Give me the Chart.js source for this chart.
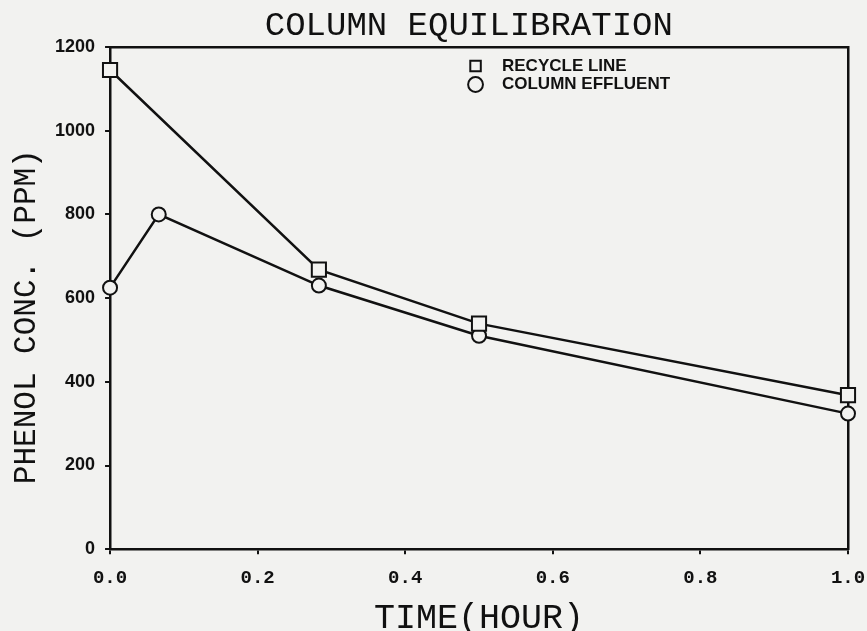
<!DOCTYPE html>
<html><head><meta charset="utf-8">
<script src="https://cdn.jsdelivr.net/npm/chart.js@4/dist/chart.umd.min.js"></script>
<style>html,body{margin:0;padding:0;background:#f2f2f0;}canvas{display:block;}</style>
</head><body>
<canvas id="c" width="867" height="631"></canvas>
<script>
const chartTitle = 'COLUMN EQUILIBRATION';
const xAxisTitle = 'TIME(HOUR)';
const yAxisTitle = 'PHENOL CONC. (PPM)';
const seriesNames = ['RECYCLE LINE', 'COLUMN EFFLUENT'];
const recycleTime = [0, 0.283, 0.5, 1.0];
const recyclePpm = [1145, 668, 539, 368];
const effluentTime = [0, 0.066, 0.283, 0.5, 1.0];
const effluentPpm = [625, 800, 630, 510, 324];
const xTicks = [0, 0.2, 0.4, 0.6, 0.8, 1.0];
const yTicks = [0, 200, 400, 600, 800, 1000, 1200];

const INK = '#111111';
const BG = '#f2f2f0';
const MONO = "'Liberation Mono', 'DejaVu Sans Mono', monospace";
const SANS = "'Liberation Sans', Arial, sans-serif";

const toPoints = (xs, ys) => xs.map((x, i) => ({x: x, y: ys[i]}));

const legendMover = {
  id: 'legendMover',
  afterLayout(chart) {
    const lg = chart.legend, ca = chart.chartArea;
    if (!lg) return;
    const w = lg.width, h = lg.height;
    lg.left = ca.left + 355.5;
    lg.top = ca.top + 9;
    lg.right = lg.left + w;
    lg.bottom = lg.top + h;
  }
};

new Chart(document.getElementById('c'), {
  type: 'line',
  data: {
    datasets: [
      {
        label: seriesNames[0],
        data: toPoints(recycleTime, recyclePpm),
        borderColor: INK, borderWidth: 2.5, tension: 0, clip: false,
        pointStyle: 'rect', pointRadius: 10, pointBorderWidth: 2,
        pointBorderColor: INK, pointBackgroundColor: BG
      },
      {
        label: seriesNames[1],
        data: toPoints(effluentTime, effluentPpm),
        borderColor: INK, borderWidth: 2.5, tension: 0, clip: false,
        pointStyle: 'circle', pointRadius: 7, pointBorderWidth: 2,
        pointBorderColor: INK, pointBackgroundColor: BG
      }
    ]
  },
  options: {
    responsive: false,
    animation: false,
    events: [],
    layout: {autoPadding: false, padding: {right: 19, left: 0, top: 0, bottom: 0}},
    plugins: {
      tooltip: {enabled: false},
      title: {
        display: true, text: chartTitle + ' ', color: INK, fullSize: false,
        font: {family: MONO, size: 34, weight: 'normal', lineHeight: 1},
        padding: {top: 8.6, bottom: 4.4}
      },
      legend: {
        display: true, position: 'chartArea', align: 'start', fullSize: false,
        labels: {
          usePointStyle: true, boxWidth: 17, boxHeight: 10.5, padding: 1.5,
          color: INK,
          font: {family: SANS, size: 17, weight: 'bold'},
          generateLabels(chart) {
            const items = Chart.defaults.plugins.legend.labels.generateLabels(chart);
            items.forEach(it => { it.text = '  ' + it.text; });
            return items;
          }
        }
      }
    },
    scales: {
      x: {
        type: 'linear', position: 'bottom', min: 0, max: 1,
        afterBuildTicks(s) { s.ticks = xTicks.map(v => ({value: v})); },
        afterFit(s) { s.paddingRight = 0; },
        ticks: {
          color: INK, padding: 13, maxRotation: 0,
          font: {family: MONO, size: 19, weight: 'bold'},
          callback: v => Number(v).toFixed(1)
        },
        grid: {display: true, drawOnChartArea: false, drawTicks: true, tickLength: 5, color: INK, lineWidth: 2},
        border: {display: true, color: INK, width: 2.5},
        title: {
          display: true, text: xAxisTitle, color: INK,
          font: {family: MONO, size: 35, weight: 'normal', lineHeight: 0.7},
          padding: {top: 3.5, bottom: 0}
        }
      },
      y: {
        type: 'linear', position: 'left', min: 0, max: 1200,
        afterBuildTicks(s) { s.ticks = yTicks.map(v => ({value: v})); },
        ticks: {
          color: INK, padding: 10,
          font: {family: SANS, size: 18, weight: 'bold'},
          callback: v => String(v)
        },
        grid: {display: true, drawOnChartArea: false, drawTicks: true, tickLength: 5, color: INK, lineWidth: 2},
        border: {display: true, color: INK, width: 2.5},
        title: {
          display: true, text: yAxisTitle + '  ', color: INK,
          font: {family: MONO, size: 31, weight: 'normal', lineHeight: 1},
          padding: {top: 11, bottom: 3}
        }
      },
      x2: {
        type: 'linear', position: 'top', min: 0, max: 1,
        ticks: {display: false},
        grid: {display: false, drawTicks: false},
        border: {display: true, color: INK, width: 2.5}
      },
      y2: {
        type: 'linear', position: 'right', min: 0, max: 1200,
        ticks: {display: false},
        grid: {display: false, drawTicks: false},
        border: {display: true, color: INK, width: 2.5}
      }
    }
  },
  plugins: [legendMover]
});
</script>
</body></html>
